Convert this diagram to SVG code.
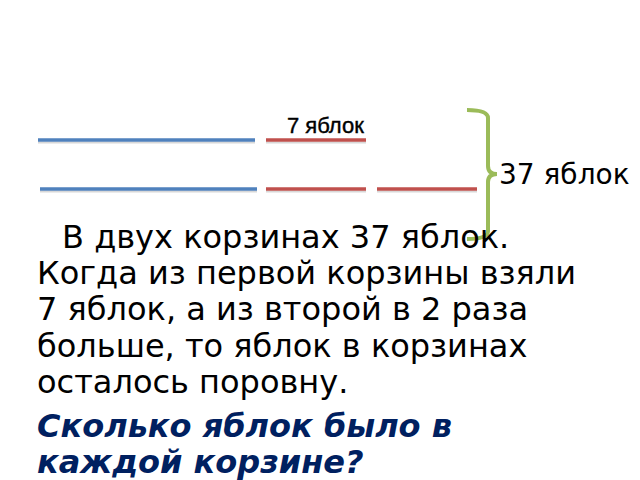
<svg xmlns="http://www.w3.org/2000/svg" width="640" height="480" viewBox="0 0 640 480">
<style>
.blue{stroke:#4f81bd;stroke-width:3.5;fill:none}
.red{stroke:#c0504d;stroke-width:3.5;fill:none}
.sh{stroke:#c8c8c8;stroke-width:2;fill:none;opacity:0.7}
.body{font-family:"DejaVu Sans",sans-serif;font-size:32px;fill:#000}
.q{font-family:"DejaVu Sans",sans-serif;font-size:32px;font-weight:bold;font-style:italic;fill:#002060}
</style>
<rect width="640" height="480" fill="#fff"/>
<g id="segments">
<line class="sh" x1="38" y1="142.5" x2="255" y2="142.5"/>
<line class="blue" x1="38" y1="140" x2="255" y2="140"/>
<line class="sh" x1="266" y1="142.5" x2="366" y2="142.5"/>
<line class="red" x1="266" y1="140" x2="366" y2="140"/>
<line class="sh" x1="40" y1="191.5" x2="257" y2="191.5"/>
<line class="blue" x1="40" y1="189" x2="257" y2="189"/>
<line class="sh" x1="266" y1="191.5" x2="366" y2="191.5"/>
<line class="red" x1="266" y1="189" x2="366" y2="189"/>
<line class="sh" x1="377" y1="191.5" x2="477" y2="191.5"/>
<line class="red" x1="377" y1="189" x2="477" y2="189"/>
</g>
<g id="brace">
<path d="M467,110 Q488,110 488,118 L488,166 Q488,174 497,174 Q488,174 488,182 L488,231 Q488,239 467,239" fill="none" stroke="#9bbb59" stroke-width="4"/>
</g>
<text x="287" y="133" font-family="Liberation Sans, Arial, sans-serif" font-size="22" fill="#000" stroke="#000" stroke-width="0.4">7 яблок</text>
<text x="499" y="184" font-family="DejaVu Sans, sans-serif" font-size="28" fill="#000">37 яблок</text>
<text class="body" x="62" y="248">В двух корзинах 37 яблок.</text>
<text class="body" x="37" y="284">Когда из первой корзины взяли</text>
<text class="body" x="37" y="320">7 яблок, а из второй в 2 раза</text>
<text class="body" x="37" y="357">больше, то яблок в корзинах</text>
<text class="body" x="37" y="393">осталось поровну.</text>
<text class="q" x="37" y="437">Сколько яблок было в</text>
<text class="q" x="37" y="473">каждой корзине?</text>
</svg>
